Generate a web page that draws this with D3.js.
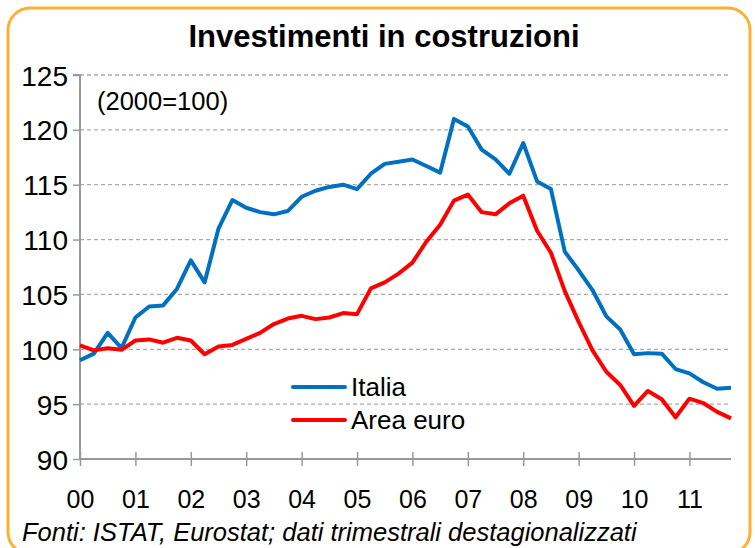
<!DOCTYPE html>
<html>
<head>
<meta charset="utf-8">
<script src="https://cdn.jsdelivr.net/npm/d3@7"></script>
<style>
  body { margin: 0; background: #fff; }
  svg text { font-family: "Liberation Sans", Arial, sans-serif; fill: #000; }
</style>
</head>
<body>
<svg class="chart"></svg>
<script>
// quarterly data, 2000Q1 - 2011Q4
const yearLabels = ["00", "01", "02", "03", "04", "05", "06", "07", "08", "09", "10", "11"];
const italia = [
  99.0, 99.6, 101.5, 100.1, 102.9, 103.9, 104.0, 105.5,
  108.1, 106.1, 111.0, 113.6, 112.9, 112.5, 112.3, 112.6,
  113.9, 114.45, 114.8, 115.0, 114.6, 116.0, 116.9, 117.1,
  117.3, 116.7, 116.1, 121.0, 120.3, 118.2, 117.3, 116.0,
  118.8, 115.3, 114.6, 108.9, 107.2, 105.4, 103.0, 101.8,
  99.55, 99.65, 99.6, 98.2, 97.8, 97.0, 96.4, 96.5
];
const areaEuro = [
  100.35, 99.9, 100.1, 99.95, 100.8, 100.9, 100.6, 101.05,
  100.8, 99.55, 100.25, 100.4, 100.95, 101.5, 102.3, 102.8,
  103.05, 102.75, 102.9, 103.3, 103.2, 105.55, 106.1, 106.9,
  107.9, 109.8, 111.35, 113.55, 114.1, 112.5, 112.3, 113.3,
  114.0, 110.8, 108.8, 105.3, 102.5, 99.9, 97.95, 96.75,
  94.85, 96.2, 95.45, 93.8, 95.5, 95.1, 94.3, 93.7
];
const seriesNames = ["Italia", "Area euro"];
const seriesColours = ["#0070C0", "#FF0000"];
const yTicks = [90, 95, 100, 105, 110, 115, 120, 125];

const width = 755, height = 548;
const margin = {top: 75, right: 24, bottom: 89, left: 80};
const plotW = width - margin.left - margin.right;
const plotH = height - margin.top - margin.bottom;

const svg = d3.select(".chart")
    .attr('width', width)
    .attr('height', height);

// orange rounded frame
svg.append('rect')
    .attr('x', 8)
    .attr('y', 8)
    .attr('width', 742)
    .attr('height', 546)
    .attr('rx', 22)
    .style('fill', 'none')
    .style('stroke', '#FFB030')
    .style('stroke-width', 3);

svg.append('text')
    .attr('x', 384)
    .attr('y', 47)
    .attr('text-anchor', 'middle')
    .style('font-size', '31px')
    .style('font-weight', 'bold')
    .text('Investimenti in costruzioni');

const chart = svg.append('g')
    .attr('transform', `translate(${margin.left}, ${margin.top})`);

const x = d3.scaleLinear()
    .domain([0, italia.length - 1])
    .range([0, plotW]);

const y = d3.scaleLinear()
    .domain([90, 125])
    .range([plotH, 0]);

// gridlines
chart.selectAll('.grid')
    .data(yTicks.slice(1))
    .enter().append('line')
    .attr('class', 'grid')
    .attr('x1', 0)
    .attr('x2', plotW)
    .attr('y1', (d) => y(d))
    .attr('y2', (d) => y(d))
    .style('stroke', '#ABABAB')
    .style('stroke-width', 1.3)
    .style('stroke-dasharray', '4,3');

// y axis
const yAxis = chart.append('g')
    .attr('class', 'axis')
    .call(d3.axisLeft(y).tickValues(yTicks).tickSize(7).tickPadding(5).tickFormat(d3.format('d')));
yAxis.select('.domain').style('stroke', '#999').style('stroke-width', 2).attr('d', `M-7,0H0V${plotH}`);
yAxis.selectAll('.tick line').style('stroke', '#999').style('stroke-width', 1.5);
yAxis.selectAll('.tick text').style('font-size', '28px').attr('dy', '0.36em');

// x axis, a label every 4 quarters
const xTickVals = yearLabels.map((d, i) => i * 4);
const xAxis = chart.append('g')
    .attr('class', 'axis')
    .attr('transform', `translate(0,${plotH})`)
    .call(d3.axisBottom(x).tickValues(xTickVals).tickSize(7).tickPadding(24).tickFormat((d, i) => yearLabels[i]));
xAxis.select('.domain').style('stroke', '#999').style('stroke-width', 2).attr('d', `M0,0H${plotW}`);
xAxis.selectAll('.tick line').attr('y1', -7).style('stroke', '#999').style('stroke-width', 1.5);
xAxis.selectAll('.tick text').style('font-size', '25px');

const line = d3.line()
    .x((d, i) => x(i))
    .y((d) => y(d));

[italia, areaEuro].forEach((s, k) => {
    chart.append('path')
        .datum(s)
        .attr('d', line)
        .style('fill', 'none')
        .style('stroke', seriesColours[k])
        .style('stroke-width', 4)
        .style('stroke-linejoin', 'round');
});

chart.append('text')
    .attr('x', 17)
    .attr('y', 35)
    .style('font-size', '25.5px')
    .text('(2000=100)');

// legend
seriesNames.forEach((name, k) => {
    const ly = 312 + k * 33;
    chart.append('line')
        .attr('x1', 213)
        .attr('x2', 265)
        .attr('y1', ly)
        .attr('y2', ly)
        .style('stroke', seriesColours[k])
        .style('stroke-width', 4)
        .style('stroke-linecap', 'round');
    chart.append('text')
        .attr('x', 271)
        .attr('y', ly + 9)
        .style('font-size', '26px')
        .text(name);
});

svg.append('text')
    .attr('x', 22)
    .attr('y', 541)
    .style('font-size', '25.5px')
    .style('font-style', 'italic')
    .text('Fonti: ISTAT, Eurostat; dati trimestrali destagionalizzati');
</script>
</body>
</html>
